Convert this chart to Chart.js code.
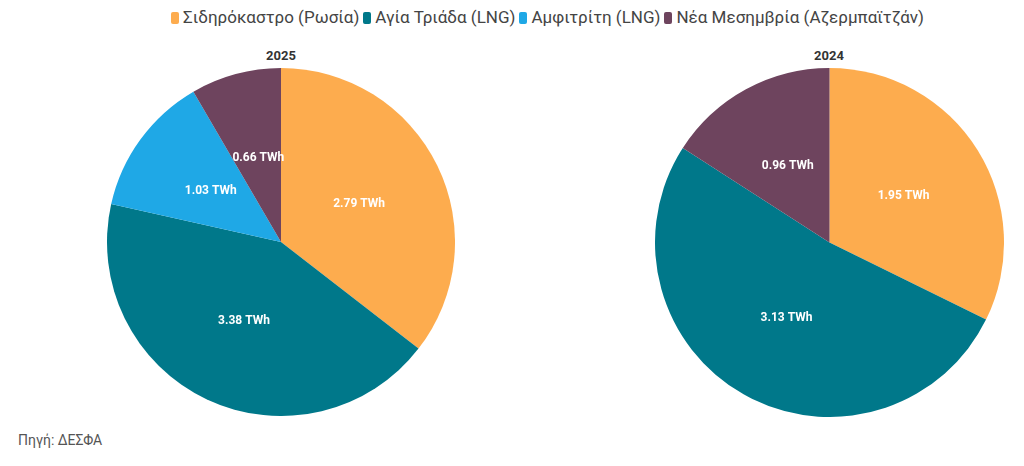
<!DOCTYPE html>
<html>
<head>
<meta charset="utf-8">
<script src="https://cdn.jsdelivr.net/npm/chart.js@4"></script>
<style>
  html, body { margin:0; padding:0; background:#fff; }
  body { width:1024px; height:466px; position:relative; overflow:hidden; font-family: Roboto, "Noto Sans", sans-serif; }
  #legend { position:absolute; top:7px; left:0; width:1095px; text-align:center; font-size:17px; color:#444; white-space:nowrap; }
  #legend span.item { display:inline-block; margin:0 2px; }
  #legend span.box { display:inline-block; width:8px; height:12px; border-radius:2px; margin-right:4px; vertical-align:-1px; }
  .title { position:absolute; top:48px; width:200px; text-align:center; font-weight:bold; font-size:13px; color:#333; }
  .pie { position:absolute; top:68px; }
  #source { position:absolute; left:18px; top:432px; font-size:14px; color:#555; }
</style>
</head>
<body>
<div id="legend"></div>
<div class="title" style="left:181px">2025</div>
<div class="title" style="left:729px">2024</div>
<div class="pie" style="left:107px;width:348px;height:348px"><canvas id="c1"></canvas></div>
<div class="pie" style="left:655px;width:349px;height:349px"><canvas id="c2"></canvas></div>
<div id="source">Πηγή: ΔΕΣΦΑ</div>
<script>
const categories = ["Σιδηρόκαστρο (Ρωσία)", "Αγία Τριάδα (LNG)", "Αμφιτρίτη (LNG)", "Νέα Μεσημβρία (Αζερμπαϊτζάν)"];
const values2025 = [2.79, 3.38, 1.03, 0.66];
const values2024 = [1.95, 3.13, 0, 0.96];
const colors = ["#FDAC4E", "#00788A", "#1FA8E6", "#6E445E"];
const unit = "TWh";

const legend = document.getElementById('legend');
categories.forEach((c, i) => {
  const s = document.createElement('span');
  s.className = 'item';
  s.innerHTML = '<span class="box" style="background:' + colors[i] + '"></span>' + c;
  legend.appendChild(s);
});

const labelPlugin = {
  id: 'sliceLabels',
  afterDatasetsDraw(chart) {
    const ctx = chart.ctx;
    const meta = chart.getDatasetMeta(0);
    const data = chart.data.datasets[0].data;
    ctx.save();
    ctx.font = 'bold 12px Roboto, "Noto Sans", sans-serif';
    ctx.fillStyle = '#ffffff';
    ctx.textAlign = 'center';
    ctx.textBaseline = 'middle';
    meta.data.forEach((arc, i) => {
      if (!data[i]) return;
      const p = arc.tooltipPosition();
      ctx.fillText(data[i].toFixed(2) + ' ' + unit, p.x, p.y);
    });
    ctx.restore();
  }
};

function makePie(id, vals) {
  new Chart(document.getElementById(id), {
    type: 'pie',
    data: { labels: categories, datasets: [{ data: vals, backgroundColor: colors, borderWidth: 0 }] },
    options: {
      responsive: true,
      maintainAspectRatio: false,
      animation: false,
      layout: { padding: 0 },
      plugins: { legend: { display: false }, tooltip: { enabled: false }, title: { display: false } }
    },
    plugins: [labelPlugin]
  });
}
makePie('c1', values2025);
makePie('c2', values2024);
</script>
</body>
</html>
